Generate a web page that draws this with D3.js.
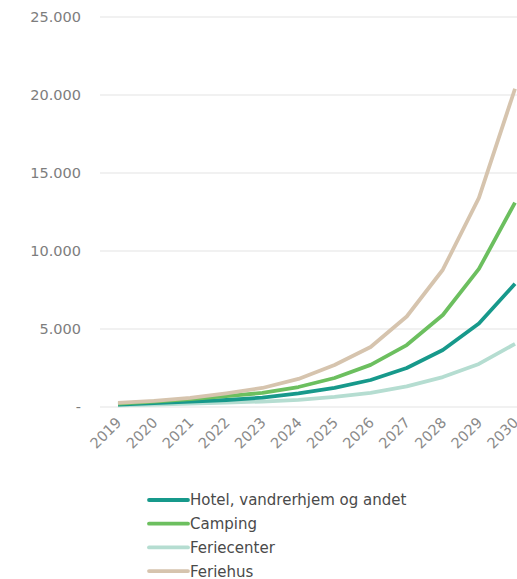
<!DOCTYPE html>
<html>
<head>
<meta charset="utf-8">
<script src="https://cdn.jsdelivr.net/npm/d3@7"></script>
<style>
  body { margin: 0; background: #fff; }
  text { font-family: "DejaVu Sans", "Open Sans", sans-serif; }
</style>
</head>
<body>
<div id="chart"></div>
<script>
// data
const years = [2019, 2020, 2021, 2022, 2023, 2024, 2025, 2026, 2027, 2028, 2029, 2030];
const hotel = [150, 250, 350, 450, 600, 870, 1220, 1730, 2500, 3650, 5350, 7900];
const camping = [220, 350, 500, 700, 900, 1280, 1860, 2700, 3970, 5900, 8850, 13100];
const feriecenter = [100, 160, 220, 290, 350, 460, 650, 900, 1320, 1920, 2760, 4050];
const feriehus = [270, 390, 580, 880, 1220, 1800, 2690, 3850, 5800, 8800, 13400, 20400];
const seriesNames = ["Hotel, vandrerhjem og andet", "Camping", "Feriecenter", "Feriehus"];
const yTicks = [0, 5000, 10000, 15000, 20000, 25000];

const colors = ["#17998b", "#6cbf5f", "#b5ddd1", "#d6c4ae"];
const series = [hotel, camping, feriecenter, feriehus];

const width = 517, height = 579;

const svg = d3.select("#chart")
  .append("svg")
  .attr("width", width)
  .attr("height", height);

const x = d3.scalePoint().domain(years).range([118, 515]);
const y = d3.scaleLinear().domain([0, 25000]).range([407, 17]);

const fmt = d3.formatLocale({ decimal: ",", thousands: ".", grouping: [3], currency: ["", ""] }).format(",");

// gridlines
svg.append("g")
  .selectAll("line")
  .data(yTicks)
  .join("line")
  .attr("x1", 100)
  .attr("x2", width)
  .attr("y1", d => y(d))
  .attr("y2", d => y(d))
  .attr("stroke", "#e3e3e3")
  .attr("stroke-width", 1.2);

// y labels
svg.append("g")
  .selectAll("text")
  .data(yTicks)
  .join("text")
  .attr("x", 81)
  .attr("y", d => y(d))
  .attr("dy", "0.36em")
  .attr("text-anchor", "end")
  .attr("fill", "#7d7d7d")
  .style("font-size", "14.5px")
  .text(d => d === 0 ? "-" : fmt(d));

// x labels
svg.append("g")
  .selectAll("text")
  .data(years)
  .join("text")
  .attr("transform", d => `translate(${x(d) - 3},${416}) rotate(-45)`)
  .attr("text-anchor", "end")
  .attr("dy", "0.72em")
  .attr("fill", "#8a8a8a")
  .style("font-size", "14.5px")
  .text(d => d);

const line = d3.line()
  .x((d, i) => x(years[i]))
  .y(d => y(d));

// draw order: feriecenter, hotel, camping, feriehus
[2, 0, 1, 3].forEach(i => {
  svg.append("path")
    .attr("d", line(series[i]))
    .attr("fill", "none")
    .attr("stroke", colors[i])
    .attr("stroke-width", 3.8)
    .attr("stroke-linejoin", "round");
});

// legend
const legend = svg.append("g")
  .selectAll("g")
  .data(seriesNames)
  .join("g")
  .attr("transform", (d, i) => `translate(149,${500 + i * 23.7})`);

legend.append("line")
  .attr("x1", 0)
  .attr("x2", 39)
  .attr("stroke", (d, i) => colors[i])
  .attr("stroke-width", 3.8)
  .attr("stroke-linecap", "round");

legend.append("text")
  .attr("x", 41)
  .attr("dy", "0.36em")
  .attr("fill", "#4a4a4a")
  .style("font-size", "15px")
  .text(d => d);
</script>
</body>
</html>
